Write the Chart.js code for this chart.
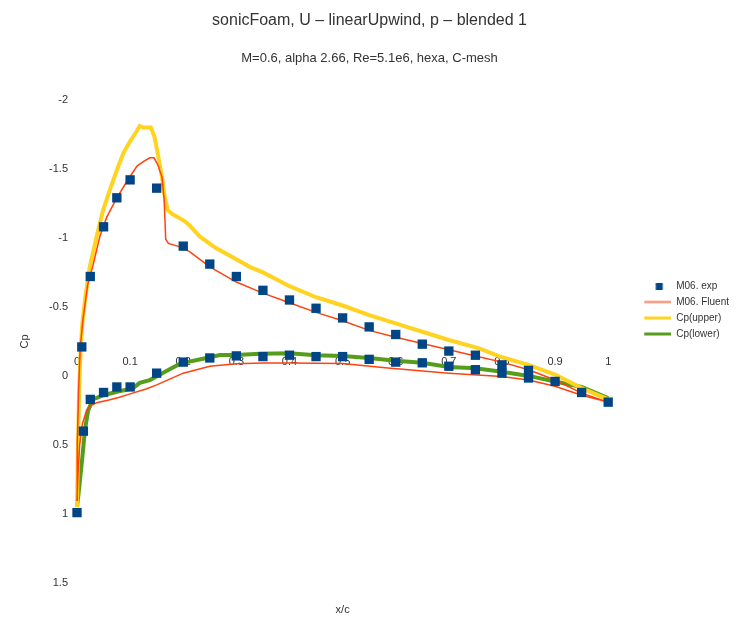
<!DOCTYPE html>
<html><head><meta charset="utf-8">
<script src="https://cdn.jsdelivr.net/npm/chart.js@4.4.1/dist/chart.umd.min.js"></script>
<style>html,body{margin:0;padding:0;background:#fff;overflow:hidden}</style>
</head><body>
<canvas id="c" width="741" height="620"></canvas>
<script>
// ---- data (x/c, Cp) ----
const expX  = [0.009,0.025,0.05,0.075,0.1,0.15,0.2,0.25,0.3,0.35,0.4,0.45,0.5,0.55,0.6,0.65,0.7,0.75,0.8,0.85,0.9,0.95,1.0,
               0,0.012,0.025,0.05,0.075,0.1,0.15,0.2,0.25,0.3,0.35,0.4,0.45,0.5,0.55,0.6,0.65,0.7,0.75,0.8,0.85];
const expCp = [-0.21,-0.72,-1.08,-1.29,-1.42,-1.36,-0.94,-0.81,-0.72,-0.62,-0.55,-0.49,-0.42,-0.355,-0.30,-0.23,-0.18,-0.15,-0.08,-0.04,0.04,0.12,0.19,
               0.99,0.40,0.17,0.12,0.08,0.08,-0.02,-0.10,-0.13,-0.145,-0.14,-0.15,-0.14,-0.14,-0.12,-0.10,-0.095,-0.07,-0.045,-0.02,0.015];

const fluentUpperX  = [0,0.001,0.003,0.006,0.011,0.02,0.03,0.043,0.056,0.075,0.094,0.113,0.124,0.137,0.145,0.152,0.16,0.164,0.167,0.172,0.194,0.212,0.25,0.3,0.35,0.4,0.45,0.5,0.55,0.6,0.65,0.7,0.75,0.8,0.85,0.9,0.95,1.0];
const fluentUpperCp = [0.9,0.5,0.1,-0.2,-0.4,-0.66,-0.8,-1.01,-1.15,-1.29,-1.41,-1.52,-1.55,-1.58,-1.58,-1.53,-1.44,-1.28,-0.99,-0.96,-0.935,-0.9,-0.79,-0.68,-0.6,-0.53,-0.46,-0.4,-0.33,-0.28,-0.235,-0.19,-0.145,-0.1,-0.045,0.03,0.125,0.19];
const fluentLowerX  = [0,0.002,0.005,0.01,0.018,0.025,0.037,0.06,0.08,0.1,0.13,0.15,0.2,0.25,0.3,0.35,0.4,0.5,0.58,0.7,0.8,0.85,0.9,0.95,1.0];
const fluentLowerCp = [0.9,0.7,0.5,0.35,0.25,0.215,0.195,0.175,0.155,0.13,0.095,0.065,-0.02,-0.07,-0.088,-0.094,-0.094,-0.09,-0.06,-0.02,0.005,0.03,0.075,0.14,0.19];

const upperX  = [0,0.002,0.004,0.007,0.01,0.016,0.024,0.037,0.049,0.062,0.075,0.087,0.094,0.1,0.112,0.118,0.124,0.131,0.139,0.146,0.152,0.16,0.165,0.171,0.18,0.19,0.203,0.212,0.231,0.26,0.293,0.325,0.35,0.375,0.4,0.45,0.5,0.55,0.6,0.65,0.7,0.757,0.8,0.85,0.9,0.95,1.0];
const upperCp = [0.95,0.5,0.1,-0.2,-0.38,-0.58,-0.79,-1.01,-1.2,-1.35,-1.49,-1.61,-1.66,-1.7,-1.77,-1.81,-1.8,-1.8,-1.8,-1.73,-1.61,-1.44,-1.3,-1.2,-1.17,-1.15,-1.12,-1.09,-1.01,-0.93,-0.86,-0.79,-0.75,-0.7,-0.65,-0.57,-0.51,-0.44,-0.38,-0.32,-0.26,-0.2,-0.135,-0.08,-0.01,0.088,0.17];
const lowerX  = [0,0.003,0.009,0.015,0.021,0.03,0.05,0.075,0.105,0.118,0.137,0.17,0.197,0.207,0.226,0.244,0.269,0.3,0.344,0.4,0.45,0.5,0.55,0.6,0.65,0.7,0.75,0.8,0.85,0.9,0.95,1.0];
const lowerCp = [0.95,0.85,0.63,0.39,0.25,0.17,0.14,0.115,0.09,0.05,0.03,-0.04,-0.094,-0.1,-0.115,-0.13,-0.152,-0.152,-0.16,-0.165,-0.15,-0.145,-0.13,-0.11,-0.095,-0.065,-0.055,-0.03,0.0,0.04,0.08,0.16];

const xTicks = [0,0.1,0.2,0.3,0.4,0.5,0.6,0.7,0.8,0.9,1];
const yTicks = [-2,-1.5,-1,-0.5,0,0.5,1,1.5];

const seriesNames = ['M06. exp','M06. Fluent','Cp(upper)','Cp(lower)'];
const colors = ['#004586','#ff420e','#ffd320','#579d1c'];

// ---- build points ----
const pts = (xs, ys) => xs.map((x, i) => ({x, y: ys[i]}));
const fluentPts = pts(fluentLowerX, fluentLowerCp).reverse().concat(pts(fluentUpperX, fluentUpperCp));
const fmt = v => String(+Number(v).toFixed(2));

function legendImg(kind, color) {
  const c = document.createElement('canvas');
  c.width = 57; c.height = 7;
  const g = c.getContext('2d');
  g.fillStyle = color;
  if (kind === 'square') g.fillRect(41.5, 0, 7, 7);
  else if (kind === 'thin') g.fillRect(30, 2.5, 27, 2);
  else g.fillRect(30, 2, 27, 3);
  return c;
}
const legendStyles = [legendImg('square', colors[0]), legendImg('thin', '#f4805c'), legendImg('thick', colors[2]), legendImg('thick', colors[3])];

const FONT = "'Liberation Sans', Arial, sans-serif";
const TXT = '#333333';

new Chart(document.getElementById('c'), {
  type: 'scatter',
  data: {
    datasets: [
      {label: seriesNames[0], data: pts(expX, expCp), showLine: false, clip: false, pointStyle: 'rect', pointRadius: 6.6, pointBorderWidth: 0, backgroundColor: colors[0], borderColor: colors[0]},
      {label: seriesNames[1], data: fluentPts, showLine: true, clip: false, pointRadius: 0, borderWidth: 1.5, borderColor: colors[1], tension: 0},
      {label: seriesNames[2], data: pts(upperX, upperCp), showLine: true, clip: false, pointRadius: 0, borderWidth: 4, borderColor: colors[2], tension: 0},
      {label: seriesNames[3], data: pts(lowerX, lowerCp), showLine: true, clip: false, pointRadius: 0, borderWidth: 4, borderColor: colors[3], tension: 0}
    ]
  },
  options: {
    responsive: false,
    animation: false,
    devicePixelRatio: 1,
    layout: {padding: {top: 0, right: 2, bottom: 0, left: 0}},
    plugins: {
      tooltip: {enabled: false},
      title: {display: true, text: 'sonicFoam, U – linearUpwind, p – blended 1', color: TXT,
              font: {family: FONT, size: 16, weight: 'normal'}, padding: {top: 11, bottom: 0}},
      subtitle: {display: true, text: 'M=0.6, alpha 2.66, Re=5.1e6, hexa, C-mesh', color: TXT,
              font: {family: FONT, size: 13, weight: 'normal'}, padding: {top: 20, bottom: 34}},
      legend: {
        position: 'right', align: 'start',
        title: {display: true, text: '', font: {size: 10}, padding: {top: 263, bottom: 0}},
        labels: {
          usePointStyle: true, pointStyleWidth: 57, padding: 6, color: TXT,
          font: {family: FONT, size: 10},
          generateLabels: () => seriesNames.map((t, i) => ({text: t, pointStyle: legendStyles[i], fillStyle: colors[i], strokeStyle: colors[i], lineWidth: 0, hidden: false, datasetIndex: i, fontColor: TXT}))
        }
      }
    },
    scales: {
      x: {
        type: 'linear', position: {y: -0.2}, min: 0, max: 1,
        afterBuildTicks: s => { s.ticks = xTicks.map(v => ({value: v})); },
        ticks: {color: TXT, font: {family: FONT, size: 11}, padding: 7, maxRotation: 0, autoSkip: false, callback: fmt},
        grid: {display: false, drawTicks: false}, border: {display: false}
      },
      y: {
        type: 'linear', position: 'left', reverse: true, min: -2, max: 1.5,
        afterBuildTicks: s => { s.ticks = yTicks.map(v => ({value: v})); },
        afterFit: s => { s.width = 77; },
        ticks: {color: TXT, font: {family: FONT, size: 11}, padding: 9, callback: fmt},
        grid: {display: false, drawTicks: false}, border: {display: false},
        title: {display: true, text: 'Cp', color: TXT, font: {family: FONT, size: 11}, padding: {top: 18, bottom: 0}}
      },
      xb: {
        type: 'linear', axis: 'x', position: 'bottom', min: 0, max: 1,
        afterFit: s => { s.height = 37; },
        ticks: {display: false}, grid: {display: false, drawTicks: false}, border: {display: false},
        title: {display: true, text: 'x/c', color: TXT, font: {family: FONT, size: 11}, padding: {top: 0, bottom: 3}}
      }
    }
  }
});
</script>
</body></html>
